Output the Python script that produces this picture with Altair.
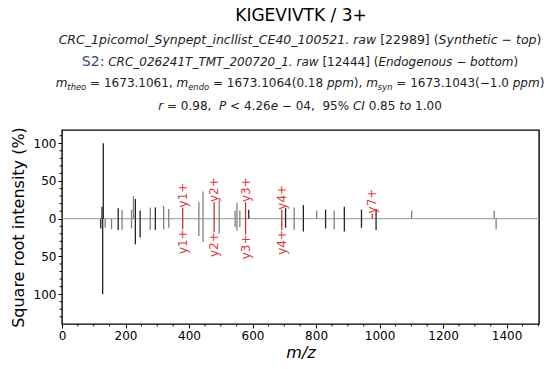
import altair as alt
import pandas as pd

# ---------------- data ----------------
top_mz = [126, 130, 177, 189, 219, 225, 231, 246, 278, 294, 320, 336, 380, 431, 444,
          479, 495, 545, 551, 560, 578, 588, 692, 704, 731, 760, 802, 830, 857, 889,
          943, 977, 989, 1101, 1361]
top_int = [16, 100, 14, 12, 12, 30, 26, 11, 15, 15, 17, 13, 15, 22, 36,
           22, 24, 11, 21, 11, 22, 12, 12, 14, 15, 18, 11, 12, 11, 16,
           12, 7, 13, 10.6, 10.6]
top_kind = ["k", "k", "k", "g", "g", "g", "k", "k", "g", "k", "g", "g", "r", "g", "g",
            "r", "g", "g", "g", "g", "r", "k", "r", "k", "g", "k", "g", "k", "g", "k",
            "k", "r", "k", "g", "g"]

bot_mz = [122, 128, 136, 156, 177, 189, 219, 231, 246, 278, 294, 320, 336, 380, 431,
          444, 479, 495, 545, 551, 560, 578, 692, 704, 731, 760, 830, 857, 889, 943,
          989, 1367]
bot_int = [13, 100, 12, 14, 15, 15, 13, 34, 25, 15, 15, 14, 12, 14, 23,
           31, 18, 20, 11, 16, 11, 21, 15, 12, 15, 17, 13, 14, 17, 12,
           15, 14]
bot_kind = ["k", "k", "g", "g", "k", "g", "g", "k", "k", "g", "k", "g", "g", "r", "g",
            "g", "r", "g", "g", "g", "g", "r", "r", "k", "g", "k", "k", "g", "k", "k",
            "k", "g"]

ion_names = ["y1+", "y2+", "y3+", "y4+", "y7+"]
ion_mz = [380, 479, 578, 692, 977]
ion_top = [15, 22, 22, 12, 7]
ion_bot = [14, 18, 21, 15, None]

x_ticks = [0, 200, 400, 600, 800, 1000, 1200, 1400]
y_ticks = [-100, -50, 0, 50, 100]

title_text = "KIGEVIVTK / 3+"

# ---------------- styling ----------------
W, H = 477, 194
PAD_L, PAD_T = 62, 130
BLACK, GRAY, RED = "#222222", "#808080", "#c83232"
kind_col = {"k": BLACK, "g": GRAY, "r": RED}

peaks = pd.DataFrame({
    "mz": top_mz + bot_mz,
    "v": top_int + [-v for v in bot_int],
    "col": [kind_col[k] for k in top_kind + bot_kind],
})
peaks["zero"] = 0

ions_top = pd.DataFrame({"mz": ion_mz, "v": ion_top, "lab": ion_names})
ions_bot = pd.DataFrame({"mz": [m for m, b in zip(ion_mz, ion_bot) if b is not None],
                         "v": [-b for b in ion_bot if b is not None],
                         "lab": [n for n, b in zip(ion_names, ion_bot) if b is not None]})

xs = alt.Scale(domain=[0, 1502], nice=False, zero=False)
ys = alt.Scale(domain=[-139.6, 117.6], nice=False, zero=False)

base_line = alt.Chart(pd.DataFrame({"y": [0]})).mark_rule(color="#aaaaaa", strokeWidth=1.3).encode(
    y=alt.Y("y:Q", scale=ys))

xaxis = alt.Axis(values=x_ticks, format="d", title="m/z", titleFontStyle="italic", titleFontSize=16,
                 titleFontWeight="normal", titlePadding=3, labelFontSize=12, tickSize=4,
                 tickColor="black", labelColor="black", titleColor="black", domain=False,
                 grid=False, labelPadding=2, labelFlush=False)
yaxis = alt.Axis(values=y_ticks, labelExpr="abs(datum.value)", title="Square root intensity (%)",
                 titleFontSize=16, titleFontWeight="normal", titlePadding=7, labelFontSize=12,
                 tickSize=4, tickColor="black", labelColor="black", titleColor="black",
                 domain=False, grid=False, labelPadding=2, labelFlush=False)

peak_rules = alt.Chart(peaks).mark_rule(strokeWidth=1.3).encode(
    x=alt.X("mz:Q", scale=xs, axis=xaxis),
    y=alt.Y("v:Q", scale=ys, axis=yaxis),
    y2="zero:Q",
    color=alt.Color("col:N", scale=None),
)

lab_top = alt.Chart(ions_top).mark_text(angle=270, align="left", baseline="middle",
                                         fontSize=12, color="#dc3c3c").encode(
    x=alt.X("mz:Q", scale=xs), y=alt.Y("v:Q", scale=ys), text="lab:N")
lab_bot = alt.Chart(ions_bot).mark_text(angle=270, align="right", baseline="middle",
                                         fontSize=12, color="#dc3c3c").encode(
    x=alt.X("mz:Q", scale=xs), y=alt.Y("v:Q", scale=ys), text="lab:N")

# minor ticks
minor_x = [m for m in range(50, 1501, 50) if m % 200 != 0]
minor_y = [v for v in range(-130, 111, 10) if v % 50 != 0]
mx = alt.Chart(pd.DataFrame({"mz": minor_x})).mark_rule(color="black", strokeWidth=1).encode(
    x=alt.X("mz:Q", scale=xs), y=alt.value(H), y2=alt.value(H + 2.4))
my = alt.Chart(pd.DataFrame({"v": minor_y})).mark_rule(color="black", strokeWidth=1).encode(
    y=alt.Y("v:Q", scale=ys), x=alt.value(0), x2=alt.value(-2.4))

# ---------------- header text (laid out from DejaVu Sans advance widths) ----------------
EM = {" ": .318, ".": .318, ",": .318, "=": .838, "(": .390, ")": .390, "−": .838, "+": .838,
      "<": .838, "%": .950, "_": .500, "[": .390, "]": .390, "/": .337, ":": .337,
      "a": .613, "b": .635, "c": .550, "d": .635, "e": .615, "f": .352, "g": .635, "h": .634,
      "i": .278, "j": .278, "k": .579, "l": .278, "m": .974, "n": .634, "o": .612, "p": .635,
      "q": .635, "r": .411, "s": .521, "t": .392, "u": .634, "v": .592, "w": .818, "x": .592,
      "y": .592, "z": .525,
      "A": .684, "B": .686, "C": .698, "D": .770, "E": .632, "F": .575, "G": .775, "H": .752,
      "I": .295, "J": .295, "K": .656, "L": .557, "M": .863, "N": .748, "O": .787, "P": .603,
      "Q": .787, "R": .695, "S": .635, "T": .611, "U": .732, "V": .684, "W": .989, "X": .685,
      "Y": .611, "Z": .685}
for d in "0123456789":
    EM[d] = .636


def tw(s, size):
    return sum(EM.get(c, .6) for c in s) * size


FS, FS2, SUB = 12, 12.5, 8.4
lines = [
    (44, [("CRC_1picomol_Synpept_incllist_CE40_100521. raw", "italic", FS2, 0, BLACK),
          (" [22989]", "normal", FS2, 0, BLACK), (" (", "normal", FS2, 0, BLACK),
          ("Synthetic", "italic", FS2, 0, BLACK),
          (" −", "normal", FS2, 0, BLACK), (" top", "italic", FS2, 0, BLACK),
          (")", "normal", FS2, 0, BLACK)]),
    (66, [("S2:", "normal", 14, 0, "#2b4a7a"), (" CRC_026241T_TMT_200720_1. raw", "italic", FS, 0, BLACK),
          (" [12444]", "normal", FS, 0, BLACK), (" (", "normal", FS, 0, BLACK),
          ("Endogenous", "italic", FS, 0, BLACK),
          (" −", "normal", FS, 0, BLACK), (" bottom", "italic", FS, 0, BLACK),
          (")", "normal", FS, 0, BLACK)]),
    (87, [("m", "italic", FS, 0, BLACK), ("theo", "italic", SUB, 3, BLACK),
          (" =", "normal", FS, 0, BLACK), (" 1673.1061,", "normal", FS, 0, BLACK),
          (" m", "italic", FS, 0, BLACK),
          ("endo", "italic", SUB, 3, BLACK), (" =", "normal", FS, 0, BLACK),
          (" 1673.1064(0.18", "normal", FS, 0, BLACK),
          (" ppm", "italic", FS, 0, BLACK), ("),", "normal", FS, 0, BLACK),
          (" m", "italic", FS, 0, BLACK), ("syn", "italic", SUB, 3, BLACK),
          (" =", "normal", FS, 0, BLACK),
          (" 1673.1043(−1.0", "normal", FS, 0, BLACK), (" ppm", "italic", FS, 0, BLACK),
          (")", "normal", FS, 0, BLACK)]),
    (110, [("r", "italic", FS, 0, BLACK), (" =", "normal", FS, 0, BLACK),
           (" 0.98,", "normal", FS, 0, BLACK),
           ("  P", "italic", FS, 0, BLACK), (" <", "normal", FS, 0, BLACK),
           (" 4.26", "normal", FS, 0, BLACK),
           ("e", "italic", FS, 0, BLACK), (" −", "normal", FS, 0, BLACK),
           (" 04,", "normal", FS, 0, BLACK), ("  95%", "normal", FS, 0, BLACK),
           (" CI", "italic", FS, 0, BLACK), (" 0.85", "normal", FS, 0, BLACK),
           (" to", "italic", FS, 0, BLACK), (" 1.00", "normal", FS, 0, BLACK)]),
]

rows = []
CENTER = 300
for base_y, segs in lines:
    total = sum(tw(s, sz) for s, _, sz, _, _ in segs)
    x = CENTER - total / 2
    for s, style, sz, dy, col in segs:
        lead = len(s) - len(s.lstrip(" "))
        txt = s.strip(" ")
        rows.append({"t": txt, "px": x + tw(" " * lead, sz) - PAD_L, "py": base_y + dy - PAD_T,
                     "st": style, "sz": sz, "col": col})
        x += tw(s, sz)
rows.append({"t": title_text, "px": 301 - PAD_L, "py": 21 - PAD_T, "st": "title", "sz": 17,
             "col": "black"})
hdr = pd.DataFrame(rows)


def hdr_layer(style, align):
    return alt.Chart(hdr).transform_filter(alt.datum.st == style).mark_text(
        align=align, baseline="alphabetic", fontStyle="italic" if style == "italic" else "normal"
    ).encode(
        x=alt.X("px:Q", scale=None, axis=None), y=alt.Y("py:Q", scale=None, axis=None),
        text="t:N", size=alt.Size("sz:Q", scale=None, legend=None),
        color=alt.Color("col:N", scale=None))


chart = alt.layer(
    base_line, mx, my, peak_rules, lab_top, lab_bot,
    hdr_layer("normal", "left"), hdr_layer("italic", "left"), hdr_layer("title", "center"),
).properties(
    width=W, height=H,
    autosize=alt.AutoSizeParams(type="none"),
    padding={"left": PAD_L, "top": PAD_T, "right": 558 - PAD_L - W, "bottom": 369 - PAD_T - H},
).configure(font="DejaVu Sans").configure_view(stroke="black", strokeWidth=1.4)

chart.save("out.html", embed_options={"renderer": "svg", "actions": False})
